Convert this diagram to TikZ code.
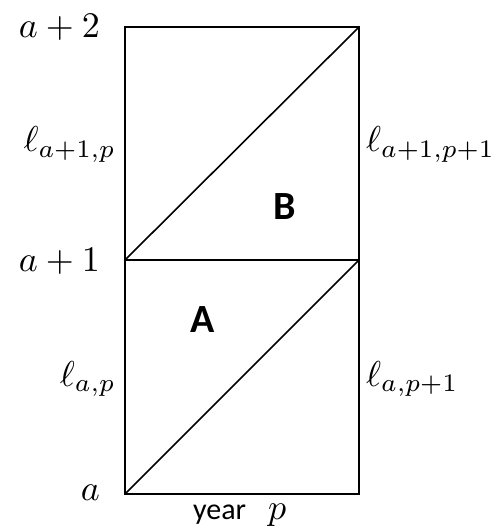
\documentclass[tikz,border=0pt]{standalone}
\usepackage{graphicx}
\usepackage{fontspec}
\newfontfamily\lab{Carlito}
\newcommand{\lgmath}[1]{{\normalsize\scalebox{3.6}{$#1$}}}
\begin{document}
\begin{tikzpicture}[x=1pt,y=-1pt,
  frame/.style={line width=1.6pt, line join=miter},
  mlab/.style={inner sep=0pt},
  blab/.style={inner sep=0pt, font=\lab\bfseries\fontsize{40}{44}\selectfont},
  slab/.style={inner sep=0pt, font=\lab\fontsize{30}{34}\selectfont}]
\useasboundingbox (0,0) rectangle (496,529);
\coordinate (bl) at (125,494);
\coordinate (br) at (359,494);
\coordinate (ml) at (125,260);
\coordinate (mr) at (359,260);
\coordinate (tl) at (125,27);
\coordinate (tr) at (359,27);
\draw[frame] (bl) -- (br) -- (tr) -- (tl) -- cycle;
\draw[frame] (ml) -- (mr);
\draw[frame] (bl) -- (mr);
\draw[frame] (ml) -- (tr);
\node[mlab, anchor=base east] (a2) at (100,38) {\lgmath{a+2}};
\node[mlab, anchor=base east] (a1) at (100,271) {\lgmath{a+1}};
\node[mlab, anchor=base east] (a0) at (100,500) {\lgmath{a}};
\node[mlab, anchor=base east] (l1p) at (116,152) {\lgmath{\ell_{a+1,p}}};
\node[mlab, anchor=base east] (l0p) at (116,386) {\lgmath{\ell_{a,p}}};
\node[mlab, anchor=base west] (l1q) at (366,152) {\lgmath{\ell_{a+1,p+1}}};
\node[mlab, anchor=base west] (l0q) at (366,386) {\lgmath{\ell_{a,p+1}}};
\node[blab] (B) at (285,207) {B};
\node[blab] (A) at (203,320) {A};
\node[slab, anchor=base west] (yr) at (193,519) {year};
\node[mlab, anchor=base west] (yp) at (268,519) {\lgmath{p}};
\end{tikzpicture}
\end{document}
